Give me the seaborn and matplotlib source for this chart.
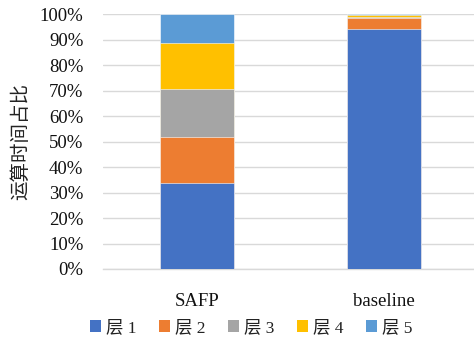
import matplotlib
matplotlib.use("Agg")
import matplotlib.pyplot as plt
import matplotlib.ticker as mticker
from matplotlib.patches import Patch
import numpy as np
import pandas as pd
import seaborn as sns

# Share of computation time per layer (fractions of total)
methods = ["SAFP", "baseline"]
layer_names = ["层 1", "层 2", "层 3", "层 4", "层 5"]
layer1 = [0.337, 0.940]
layer2 = [0.179, 0.045]
layer3 = [0.190, 0.004]
layer4 = [0.180, 0.006]
layer5 = [0.114, 0.005]
colors = ["#4472C4", "#ED7D31", "#A5A5A5", "#FFC000", "#5B9BD5"]
y_ticks = np.arange(0, 1.01, 0.1)

sns.set_theme(style="white")
plt.rcParams["font.family"] = ["Liberation Serif", "Noto Sans CJK SC"]

layers = [layer1, layer2, layer3, layer4, layer5]
cum = np.cumsum(np.array(layers), axis=0)

fig = plt.figure(figsize=(4.74, 3.39), dpi=100)
ax = fig.add_axes([0.217, 0.2065, 0.783, 0.752])

# Stacked bars: draw cumulative totals from the top layer down
for k in range(len(layers) - 1, -1, -1):
    df = pd.DataFrame({"method": methods, "share": cum[k]})
    sns.barplot(data=df, x="method", y="share", color=colors[k],
                saturation=1, width=0.40, edgecolor="white", linewidth=0.4,
                ax=ax, zorder=3)

ax.set_xlim(-0.503, 1.481)
ax.set_ylim(0, 1)
ax.set_yticks(y_ticks)
ax.yaxis.set_major_formatter(mticker.PercentFormatter(1.0, decimals=0))
ax.grid(axis="y", color="#D9D9D9", linewidth=1.0, zorder=0)
ax.grid(axis="x", visible=False)
for side in ["top", "right", "left"]:
    ax.spines[side].set_visible(False)
ax.spines["bottom"].set_color("#D9D9D9")
ax.spines["bottom"].set_linewidth(1.0)
ax.tick_params(axis="y", length=0, pad=14, labelsize=13.5, labelcolor="#111111")
ax.tick_params(axis="x", length=0, pad=17, labelsize=13.5, labelcolor="#111111")
ax.set_xlabel("")
ax.set_ylabel("运算时间占比", fontsize=14, color="#222222",
              family=["Noto Sans CJK SC"])
ax.yaxis.set_label_coords(-0.192, 0.5)

handles = [Patch(facecolor=c, edgecolor="none") for c in colors]
fig.legend(handles, layer_names, loc="center", ncol=5,
           bbox_to_anchor=(0.53, 0.032), frameon=False, fontsize=12.5,
           handlelength=0.63, handleheight=0.63, handletextpad=0.3,
           columnspacing=1.3, labelcolor="#222222")

fig.savefig("out.png", dpi=100)
